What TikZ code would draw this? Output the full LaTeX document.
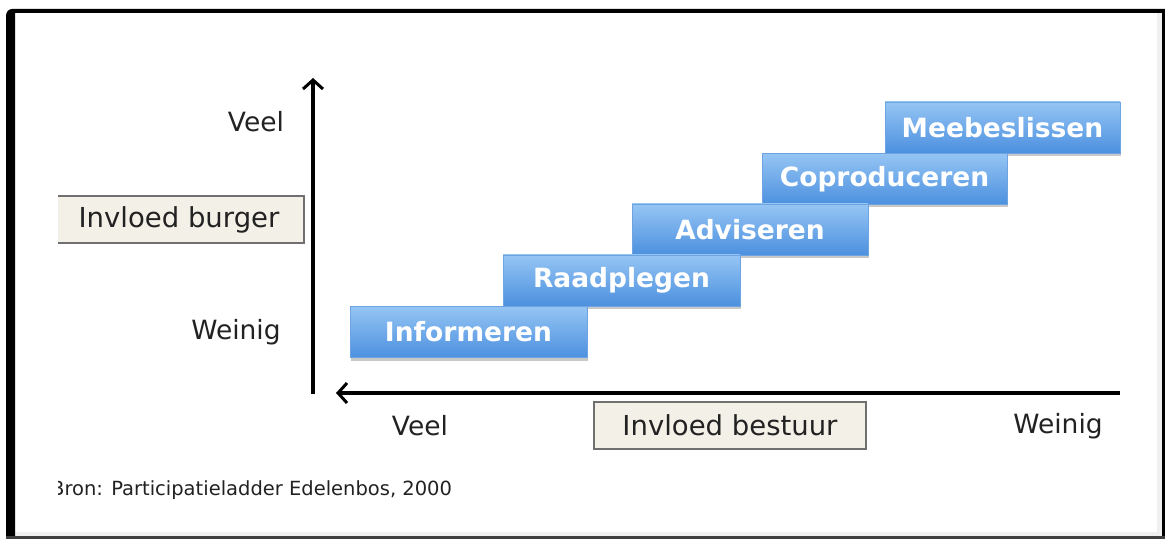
\documentclass[tikz,border=0pt]{standalone}
\usepackage{fontspec}
\setmainfont{DejaVu Sans}
\usetikzlibrary{arrows.meta,shadows}
\definecolor{bluetop}{HTML}{95C5F4}
\definecolor{bluebot}{HTML}{4C90DF}
\definecolor{blueedge}{HTML}{6CA3E0}
\definecolor{beige}{HTML}{F3F0E7}
\definecolor{boxedge}{HTML}{707070}
\definecolor{txt}{HTML}{222222}
\tikzset{
  stepbox/.style={rectangle, top color=bluetop, bottom color=bluebot, draw=blueedge, line width=0.6pt,
    minimum height=51pt, inner sep=0pt, text=white,
    font=\fontsize{26.5}{30}\selectfont\bfseries,
    drop shadow={shadow xshift=1pt, shadow yshift=-3pt, opacity=0.3, fill=black!70}},
  labelbox/.style={rectangle, fill=beige, draw=boxedge, line width=1.3pt, minimum height=47pt,
    inner sep=0pt, text=txt, font=\fontsize{27.5}{30}\selectfont},
  axlabel/.style={text=txt, font=\fontsize{26.5}{30}\selectfont, inner sep=0pt},
  axis/.style={line width=3.4pt, -{Straight Barb[length=9pt,width=20pt,line width=3pt]}}
}
\begin{document}
\begin{tikzpicture}[x=1pt,y=-1pt]
\useasboundingbox (0,0) rectangle (1165,540);
\fill[white] (0,0) rectangle (1165,540);
% frame
\fill[black!6] (1157,12) rectangle (1162,537);
\fill[black!6] (14,532) rectangle (1162,537);
\fill[black] (6,538) -- (6,16) to[out=90,in=180] (12,9) -- (1165,9) -- (1165,13) -- (15,13) -- (15,538) -- cycle;
\fill[black] (1162,9) rectangle (1165,539);
\fill[black!75] (6,535.5) rectangle (1165,539);

% axes
\coordinate (vbot) at (313,394);
\coordinate (vtop) at (313,78);
\coordinate (hright) at (1120,393);
\coordinate (hleft) at (336,393);
\draw[axis] (vbot) -- (vtop);
\draw[axis] (hright) -- (hleft);

% steps
\node[stepbox, minimum width=235pt] (mee) at (1002.5,127.5) {Meebeslissen};
\node[stepbox, minimum width=245pt] (copro) at (884.5,179) {Coproduceren};
\node[stepbox, minimum width=236pt] (advis) at (750,229.5) {Adviseren};
\node[stepbox, minimum width=237pt] (raad) at (621.5,280.5) {Raadplegen};
\node[stepbox, minimum width=237pt] (info) at (468.5,332) {Informeren};

% labels
\node[axlabel] (veelv) at (256,122) {Veel};
\node[axlabel] (weinigv) at (236,332) {Weinig};
\node[axlabel] (veelh) at (420,426) {Veel};
\node[axlabel] (weinigh) at (1058,426) {Weinig};
\node[labelbox, minimum width=272pt] (bestuur) at (730,425.5) {Invloed bestuur};

\begin{scope}
\clip (58,0) rectangle (1165,540);
\node[labelbox, minimum width=250pt] (burger) at (179,219.5) {Invloed burger};
\node[text=txt, font=\fontsize{19.5}{22}\selectfont, anchor=west, inner sep=0pt] (bron) at (51,490) {Bron: Participatieladder Edelenbos, 2000};
\end{scope}
\end{tikzpicture}
\end{document}
